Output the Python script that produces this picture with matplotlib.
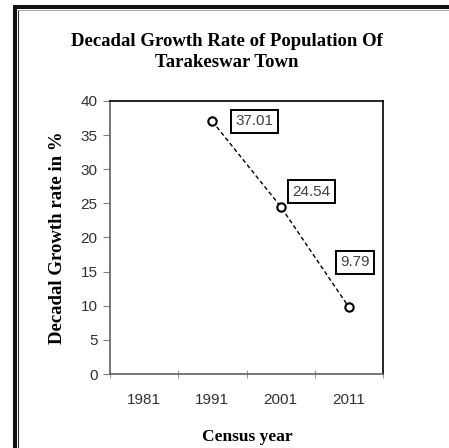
import matplotlib
matplotlib.use('Agg')
import matplotlib.pyplot as plt
from matplotlib.lines import Line2D
import numpy as np

years = ['1981', '1991', '2001', '2011']
growth = [np.nan, 37.01, 24.54, 9.79]
labels = ['', '37.01', '24.54', '9.79']
label_offsets = [(0, 0), (42, 0), (31, 15), (6, 45)]  # pixels

W, H = 449, 448
fig = plt.figure(figsize=(W / 100, H / 100), dpi=100)
fig.patch.set_facecolor('white')

ax = fig.add_axes([110 / W, (H - 374) / H, (383 - 110) / W, (374 - 101) / H])
x = np.arange(len(years))
ax.plot(x, growth, linestyle=(0, (3, 2)), color='black', lw=1.0,
        marker='o', markersize=6, markerfacecolor='white',
        markeredgecolor='black', markeredgewidth=1.5)

for xi, yi, lab, off in zip(x, growth, labels, label_offsets):
    if not lab:
        continue
    ax.annotate(lab, (xi, yi), xytext=off, textcoords='offset pixels',
                ha='center', va='center', fontsize=11, color='#404040',
                family='Liberation Sans',
                bbox=dict(boxstyle='square,pad=0.3', fc='white', ec='black', lw=1.4))

ax.set_xlim(-0.5, len(years) - 0.5)
ax.set_ylim(0, 40)
ax.set_yticks(range(0, 41, 5))
ax.set_xticks(x)
ax.set_xticklabels(years)
ax.set_xticks(np.arange(-0.5, len(years), 1), minor=True)
ax.tick_params(axis='x', which='major', length=0, pad=14, labelsize=11, labelcolor='#303030')
ax.tick_params(axis='x', which='minor', length=6, direction='inout', color='#808080')
ax.tick_params(axis='y', length=5, color='#808080', labelsize=11, labelcolor='#303030', pad=4)
for lab in ax.get_xticklabels() + ax.get_yticklabels():
    lab.set_family('Liberation Sans')
for s in ax.spines.values():
    s.set_color('black')
    s.set_linewidth(1.2)
ax.spines['left'].set_color('#606060')
ax.spines['bottom'].set_color('#606060')

fig.text(227 / W, 1 - 52 / H, 'Decadal Growth Rate of Population Of\nTarakeswar Town',
         ha='center', va='center', fontsize=13.5, fontweight='bold',
         family='Liberation Serif', linespacing=1.35)
fig.text(58 / W, 1 - 238 / H, 'Decadal Growth rate in %', rotation=90,
         ha='center', va='center', fontsize=13.5, fontweight='bold', family='Liberation Serif')
fig.text(247 / W, 1 - 437 / H, 'Census year', ha='center', va='center',
         fontsize=12.5, fontweight='bold', family='Liberation Serif')

# double frame round the chart (only left and top fall inside the image)
fig.add_artist(Line2D([14.5 / W, 14.5 / W], [0, 1 - 7.5 / H], color='#111111', lw=2.9,
                      transform=fig.transFigure, solid_capstyle='butt'))
fig.add_artist(Line2D([13 / W, 1], [1 - 7.5 / H, 1 - 7.5 / H], color='#111111', lw=2.9,
                      transform=fig.transFigure, solid_capstyle='butt'))
fig.add_artist(Line2D([17.5 / W, 17.5 / W], [0, 1 - 10.5 / H], color='#333333', lw=0.8,
                      transform=fig.transFigure, solid_capstyle='butt'))
fig.add_artist(Line2D([17 / W, 1], [1 - 10.5 / H, 1 - 10.5 / H], color='#999999', lw=0.6,
                      transform=fig.transFigure, solid_capstyle='butt'))

fig.savefig('out.png', dpi=100)
